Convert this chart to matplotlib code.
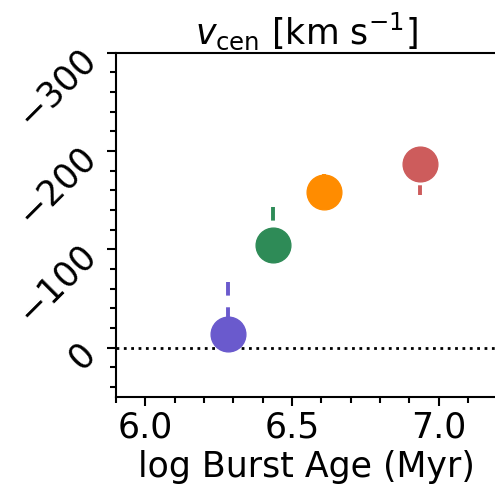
import numpy as np
import matplotlib
matplotlib.use('Agg')
import matplotlib.pyplot as plt
from matplotlib.ticker import MultipleLocator

# values
burst_age = [6.283, 6.436, 6.609, 6.936]
v_cen = [-14, -105, -158, -187]
err_low = [4, 4, 4, 32]      # toward larger v (down on the inverted axis)
err_high = [53, 38, 19, 4]   # toward more negative v (up)
colors = ['slateblue', 'seagreen', 'darkorange', 'indianred']

fig = plt.figure(figsize=(4.95, 4.98), dpi=100)
ax = fig.add_axes([0.234, 0.203, 0.771, 0.691])

ax.axhline(0, color='black', linestyle=':', lw=2, zorder=1)

for x, y, lo, hi, c in zip(burst_age, v_cen, err_low, err_high, colors):
    eb = ax.errorbar(x, y, yerr=[[hi], [lo]], fmt='o', color=c, ms=25,
                     elinewidth=2.8, capsize=0, zorder=3)
    eb[2][0].set_linestyle((0, (3.5, 3)))

ax.set_xlim(5.9, 7.2)
ax.set_ylim(50, -300)
ax.xaxis.set_major_locator(MultipleLocator(0.5))
ax.xaxis.set_minor_locator(MultipleLocator(0.1))
ax.yaxis.set_major_locator(MultipleLocator(100))
ax.yaxis.set_minor_locator(MultipleLocator(20))
ax.tick_params(which='major', length=6.5, width=1.5, labelsize=25)
ax.tick_params(which='minor', length=4, width=1.5)
ax.tick_params(axis='y', which='major', pad=12)
for lab in ax.get_yticklabels():
    lab.set_rotation(45)
    lab.set_rotation_mode('anchor')
    lab.set_ha('right')
    lab.set_va('center')
for s in ax.spines.values():
    s.set_linewidth(1.5)

ax.set_xlabel('log Burst Age (Myr)', fontsize=25)
ax.set_title(r'$v_{\rm cen}$ [km s$^{-1}$]', fontsize=25)

fig.savefig('out.png', dpi=100)
